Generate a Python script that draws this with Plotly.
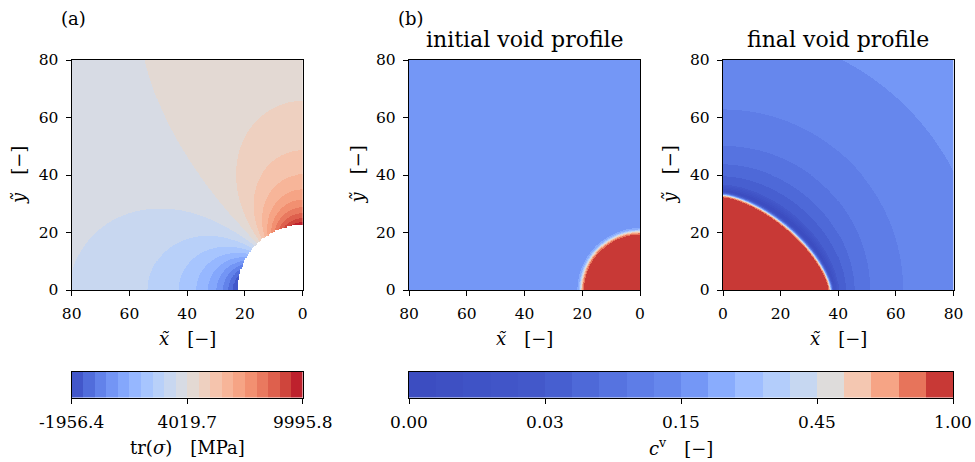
import numpy as np
import plotly.graph_objects as go

# ---------------- data ----------------
# panel (a): trace of the stress tensor around the void
STRESS_MIN = -1956.4
STRESS_MAX = 9995.8
STRESS_TICKS = [-1956.4, 4019.7, 9995.8]
STRESS_TICK_TEXT = ["-1956.4", "4019.7", "9995.8"]
N_BANDS = 20

HOLE_RADIUS = 22.8          # void radius in panel (a)
FAR_FIELD_TRACE = 3900.0    # remote value of tr(sigma) [MPa]
TRACE_AMPLITUDE = 5976.0    # hole perturbation amplitude [MPa]
MESH_SIZE = 0.45            # element size of the mesh that cuts out the void

# panel (b): vacancy concentration c^v, contour levels and colour-bar labels
CV_LEVELS = [0.0, 0.006, 0.012, 0.018, 0.024, 0.03,
             0.054, 0.078, 0.102, 0.126, 0.15,
             0.21, 0.27, 0.33, 0.39, 0.45,
             0.56, 0.67, 0.78, 0.89, 1.0]
CV_TICK_INDEX = [0, 5, 10, 15, 20]
CV_TICK_TEXT = ["0.00", "0.03", "0.15", "0.45", "1.00"]

INITIAL_VOID_RADIUS = 20.3
INITIAL_CV = 0.18
INITIAL_INTERFACE_WIDTH = 0.9

FINAL_VOID_SEMI_X = 37.3
FINAL_VOID_SEMI_Y = 33.0
FINAL_VOID_EXPONENT = 1.5
FINAL_INTERFACE_WIDTH = 0.6

# iso-c^v rings around the final void: level, x-intercept, y-intercept, shape exponent
RING_CV = [0.0, 0.03, 0.054, 0.078, 0.102, 0.126, 0.15]
RING_X = [38.3, 40.2, 42.6, 45.6, 51.0, 62.5, 90.0]
RING_Y = [34.5, 36.8, 39.7, 43.7, 50.1, 62.8, 90.0]
RING_P = [1.6, 1.7, 1.8, 1.9, 2.0, 2.0, 2.0]
FAR_CV = 0.17

AXIS_TICKS = [0, 20, 40, 60, 80]

# ---------------- colour map (coolwarm) ----------------
COOLWARM = np.array([
    [59, 76, 192], [68, 90, 204], [77, 104, 215], [87, 117, 225], [98, 130, 234],
    [108, 142, 241], [119, 154, 247], [130, 165, 251], [141, 176, 254], [152, 185, 255],
    [163, 194, 255], [174, 201, 253], [184, 208, 249], [194, 213, 244], [204, 217, 238],
    [213, 219, 230], [221, 221, 221], [229, 216, 209], [236, 211, 197], [241, 204, 185],
    [245, 196, 173], [247, 187, 160], [247, 177, 148], [247, 166, 135], [244, 154, 123],
    [241, 141, 111], [236, 127, 99], [229, 112, 88], [222, 96, 77], [213, 80, 66],
    [203, 62, 56], [192, 40, 47], [180, 4, 38]], dtype=float)
CW_POS = np.linspace(0, 1, len(COOLWARM))


def coolwarm(t):
    rgb = [np.interp(t, CW_POS, COOLWARM[:, k]) for k in range(3)]
    return "rgb(%d,%d,%d)" % tuple(int(round(v)) for v in rgb)


def discrete_scale(colors):
    n = len(colors)
    scale = []
    for i, c in enumerate(colors):
        scale.append([i / n, c])
        scale.append([(i + 1) / n, c])
    return scale


stress_levels = np.linspace(STRESS_MIN, STRESS_MAX, N_BANDS + 1)
stress_colors = [coolwarm((i + 0.5) / N_BANDS) for i in range(N_BANDS)]
cv_levels = np.array(CV_LEVELS)
cv_colors = [coolwarm(0.5 * (cv_levels[i] + cv_levels[i + 1])) for i in range(N_BANDS)]

# ---------------- fields ----------------
N = 461
g = np.linspace(0, 80, N)
X, Y = np.meshgrid(g, g)
R = np.hypot(X, Y)
R_safe = np.where(R == 0, 1e-9, R)
TH = np.arctan2(Y, X)

# (a) tr(sigma) around a circular hole
trace = FAR_FIELD_TRACE - TRACE_AMPLITUDE * (HOLE_RADIUS / R_safe) ** 2 * np.cos(2 * TH)
trace = np.clip(trace, STRESS_MIN, STRESS_MAX)
band_a = np.digitize(trace, stress_levels[1:-1]) + 0.5
# the void is removed element by element, which leaves a slightly stepped edge
R_mesh = np.hypot(np.round(X / MESH_SIZE) * MESH_SIZE, np.round(Y / MESH_SIZE) * MESH_SIZE)
band_a = np.where(R_mesh < HOLE_RADIUS, np.nan, band_a)


def superellipse_radius(ax, ay, p):
    c = np.abs(np.cos(TH)) / ax
    s = np.abs(np.sin(TH)) / ay
    return (c ** p + s ** p) ** (-1.0 / p)


# (b) initial void: circular void in a uniform vacancy field
phi0 = 0.5 * (1 - np.tanh((R - INITIAL_VOID_RADIUS) / INITIAL_INTERFACE_WIDTH))
cv_init = phi0 + (1 - phi0) * INITIAL_CV
band_b1 = np.clip(np.digitize(cv_init, cv_levels[1:-1]), 0, N_BANDS - 1) + 0.5

# (b) final void: grown void with a depleted zone around it
r_void = superellipse_radius(FINAL_VOID_SEMI_X, FINAL_VOID_SEMI_Y, FINAL_VOID_EXPONENT)
phi1 = 0.5 * (1 - np.tanh((R - r_void) / FINAL_INTERFACE_WIDTH))
ring_r = [superellipse_radius(a, b, p) for a, b, p in zip(RING_X, RING_Y, RING_P)]
outer = np.zeros_like(R)
for k in range(len(ring_r) - 1):
    m = (R >= ring_r[k]) & (R < ring_r[k + 1])
    frac = (R - ring_r[k]) / (ring_r[k + 1] - ring_r[k])
    outer = np.where(m, RING_CV[k] + (RING_CV[k + 1] - RING_CV[k]) * frac, outer)
outer = np.where(R >= ring_r[-1], FAR_CV, outer)
cv_final = phi1 + (1 - phi1) * outer
band_b2 = np.clip(np.digitize(cv_final, cv_levels[1:-1]), 0, N_BANDS - 1) + 0.5

# ---------------- figure ----------------
W, H = 975, 462


def px(v):
    return v / W


def py(v):
    return 1 - v / H


FONT = "DejaVu Serif"
fig = go.Figure()

hm = dict(zmin=0, zmax=N_BANDS, showscale=False, hoverinfo="skip", zsmooth=False)
fig.add_trace(go.Heatmap(x=g, y=g, z=band_a, colorscale=discrete_scale(stress_colors),
                         xaxis="x", yaxis="y", **hm))
fig.add_trace(go.Heatmap(x=g, y=g, z=band_b1, colorscale=discrete_scale(cv_colors),
                         xaxis="x2", yaxis="y2", **hm))
fig.add_trace(go.Heatmap(x=g, y=g, z=band_b2, colorscale=discrete_scale(cv_colors),
                         xaxis="x3", yaxis="y3", **hm))

# colour bars
bar_x = np.arange(N_BANDS) + 0.5
fig.add_trace(go.Heatmap(x=bar_x, y=[0], z=[bar_x], colorscale=discrete_scale(stress_colors),
                         xaxis="x4", yaxis="y4", **hm))
fig.add_trace(go.Heatmap(x=bar_x, y=[0], z=[bar_x], colorscale=discrete_scale(cv_colors),
                         xaxis="x5", yaxis="y5", **hm))

tick_font = dict(family=FONT, size=15.5, color="black")

common = dict(showline=True, mirror=True, linecolor="black", linewidth=1.4,
              ticks="outside", ticklen=5, tickwidth=1.2, tickcolor="black",
              showgrid=False, zeroline=False, tickfont=tick_font, automargin=False)

panel_y = [py(290), py(60)]
layout = dict(
    width=W, height=H, margin=dict(l=0, r=0, t=0, b=0, autoexpand=False),
    paper_bgcolor="white", plot_bgcolor="white", showlegend=False,
    xaxis=dict(domain=[px(71.7), px(302.7)], range=[80, 0], anchor="y",
               tickvals=AXIS_TICKS, ticklabelstandoff=4, **common),
    yaxis=dict(domain=panel_y, range=[0, 80], anchor="x",
               tickvals=AXIS_TICKS, ticklabelstandoff=4, **common),
    xaxis2=dict(domain=[px(409), px(640)], range=[80, 0], anchor="y2",
                tickvals=AXIS_TICKS, ticklabelstandoff=4, **common),
    yaxis2=dict(domain=panel_y, range=[0, 80], anchor="x2",
                tickvals=AXIS_TICKS, ticklabelstandoff=4, **common),
    xaxis3=dict(domain=[px(723), px(953.5)], range=[0, 80], anchor="y3",
                tickvals=AXIS_TICKS, ticklabelstandoff=4, **common),
    yaxis3=dict(domain=panel_y, range=[0, 80], anchor="x3",
                tickvals=AXIS_TICKS, ticklabelstandoff=4, **common),
)

bar_y = [py(397.7), py(371.7)]
bar_tick_font = dict(family=FONT, size=17, color="black")
stress_tick_pos = [(v - STRESS_MIN) / (STRESS_MAX - STRESS_MIN) * N_BANDS for v in STRESS_TICKS]
layout["xaxis4"] = dict(domain=[px(71.7), px(302.7)], range=[0, N_BANDS], anchor="y4",
                        tickvals=stress_tick_pos, ticktext=STRESS_TICK_TEXT,
                        ticklabelstandoff=4,
                        **{**common, "tickfont": bar_tick_font})
layout["yaxis4"] = dict(domain=bar_y, range=[-0.5, 0.5], anchor="x4",
                        showticklabels=False,
                        **{**common, "ticks": ""})
layout["xaxis5"] = dict(domain=[px(409), px(953)], range=[0, N_BANDS], anchor="y5",
                        tickvals=CV_TICK_INDEX, ticktext=CV_TICK_TEXT,
                        ticklabelstandoff=4,
                        **{**common, "tickfont": bar_tick_font})
layout["yaxis5"] = dict(domain=bar_y, range=[-0.5, 0.5], anchor="x5",
                        showticklabels=False,
                        **{**common, "ticks": ""})

fig.update_layout(**layout)

EM = "\u2003"
x_label = "<i>x\u0303</i>" + EM + "[\u2212]"
y_label = "<i>y\u0303</i>" + EM + "[\u2212]"


def note(text, x, y, size=18, angle=0):
    fig.add_annotation(text=text, x=px(x), y=py(y), xref="paper", yref="paper",
                       showarrow=False, xanchor="center", yanchor="middle",
                       textangle=angle, font=dict(family=FONT, size=size, color="black"))


note("(a)", 73.5, 18.5)
note("(b)", 411, 18.5)
note("initial void profile", 524.5, 40, size=22)
note("final void profile", 838, 40, size=22)

for cx in (187.2, 524.5, 838.2):
    note(x_label, cx, 338)
for cx in (18, 356.5, 668.5):
    note(y_label, cx, 175, angle=-90)

note("tr(<i>\u03c3</i>)" + EM + "[MPa]", 187.2, 447)
note("<i>c</i><sup>v</sup>" + EM + "[\u2212]", 681, 447)

fig.write_html("out.html")
